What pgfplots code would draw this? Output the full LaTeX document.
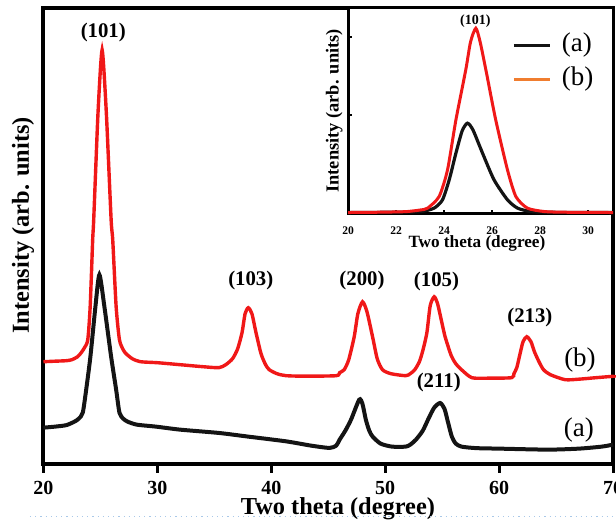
\documentclass[border=0pt]{standalone}
\usepackage{fontspec}
\setmainfont{Liberation Serif}
\usepackage{pgfplots}
\pgfplotsset{compat=1.18}
\definecolor{xrdred}{HTML}{F01818}
\definecolor{xrdblack}{HTML}{141414}
\definecolor{legorange}{HTML}{F07D2F}
\definecolor{dotblue}{HTML}{A9C8E8}

\begin{document}
\begin{tikzpicture}
\begin{axis}[
  name=main, at={(0,0)}, anchor=south west,
  scale only axis, width=285pt, height=228pt,
  xmin=20, xmax=70, ymin=0, ymax=456,
  xtick={20,30,40,50,60,70}, ytick=\empty,
  xtick pos=lower, tick align=outside,
  major tick length=4.5pt,
  axis line style={line width=2pt},
  every tick/.style={line width=1.5pt, black},
  /pgf/number format/assume math mode=true,
  tick label style={font=\bfseries\fontsize{10}{12}\selectfont},
  xticklabel style={yshift=-1pt},
  xlabel={\bfseries Two theta (degree)},
  ylabel={\bfseries Intensity (arb. units)},
  xlabel style={font=\fontsize{12.2}{14}\selectfont, at={(axis description cs:0.517,-0.099)}, anchor=center},
  ylabel style={font=\fontsize{12.2}{14}\selectfont, at={(axis description cs:-0.036,0.523)}, anchor=center, rotate=0},
  clip=false,
]
% (a)
\addplot[xrdblack, line width=2pt, smooth, tension=0.4] coordinates {
(20,36) (21,37) (22,38.5) (22.72,42) (23.1,45) (23.45,51) (23.75,74) (24.12,107)
(24.56,157) (24.91,189) (25.35,157) (25.94,107) (26.38,74) (26.67,51) (27.0,45)
(27.39,42) (28.2,39) (29.9,37) (32,34) (35.4,30.7) (38,27) (41.3,22.3) (43.5,18)
(45.1,15.7) (45.7,18) (46.0,24) (46.5,33) (47.0,44) (47.72,64) (48.0,60) (48.3,44)
(48.6,33) (48.9,27) (49.6,20) (50.6,17) (51.8,17) (52.2,19) (52.7,24) (53.3,33)
(53.8,45) (54.3,56) (54.82,60.7) (55.2,55) (55.5,42) (55.85,27) (56.2,20) (56.7,17)
(58,15.5) (60,15) (64.3,14) (67,15) (69,17) (70,19)
};
% (b)
\addplot[xrdred, line width=1.7pt, smooth, tension=0.4] coordinates {
(20,102) (21,102.5) (22,103) (22.5,104) (23.0,107) (23.31,111) (23.6,116) (23.89,124)
(24.10,157) (24.32,224) (24.41,244) (24.76,344) (25.0,395) (25.15,414) (25.3,395)
(25.55,344) (25.94,244) (26.08,224) (26.38,157) (26.67,124) (27.0,114) (27.25,110)
(27.8,105) (28.5,102) (30,101) (32,99) (34,97) (35.4,96) (36.0,99) (36.6,105)
(37.05,115) (37.43,131) (37.7,150) (37.98,156) (38.3,150) (38.66,131) (39.1,110)
(39.5,99) (39.82,94) (40.5,90) (41.3,88) (43,87.5) (45.7,88) (46.0,91) (46.4,94)
(46.8,104) (47.28,127) (47.6,150) (48.01,162) (48.4,152) (48.89,127) (49.3,105)
(49.76,94) (50.5,90) (51.8,88) (52.2,90) (52.6,94) (53.0,102) (53.3,113) (53.66,131)
(53.95,158) (54.30,167) (54.6,160) (54.9,145) (55.26,127) (55.8,108) (56.2,100)
(56.7,94) (57.6,86) (59,85.5) (61.1,86) (61.3,90) (61.55,96) (61.8,108) (62.1,122)
(62.43,127) (62.8,122) (63.1,112) (63.5,102) (63.9,94) (64.5,89) (65.8,84) (67,84.5)
(68.5,86) (69.9,87.3) (70,87.5)
};
\begin{scope}[font=\bfseries\fontsize{10.4}{12}\selectfont]
\node at (axis cs:25.25,431) {(101)};
\node at (axis cs:38.2,183) {(103)};
\node at (axis cs:47.96,183) {(200)};
\node at (axis cs:54.5,182) {(105)};
\node at (axis cs:62.7,146) {(213)};
\node at (axis cs:54.7,81) {(211)};
\end{scope}
\node[font=\fontsize{13.5}{15}\selectfont] at (axis cs:67.1,104) {(b)};
\node[font=\fontsize{13.5}{15}\selectfont] at (axis cs:67.0,34) {(a)};
\end{axis}

\begin{axis}[
  name=inset, at={(main.north east)}, anchor=north east,
  scale only axis, width=132.5pt, height=103pt,
  xmin=20, xmax=31.04, ymin=0, ymax=206,
  axis background/.style={fill=white},
  xtick={20,22,...,30}, ytick={99,177}, yticklabels={},
  xtick pos=lower, ytick pos=left, tick align=inside,
  major tick length=2pt,
  axis line style={line width=1.5pt},
  every tick/.style={line width=0.8pt, black},
  /pgf/number format/assume math mode=true,
  tick label style={font=\bfseries\fontsize{5.8}{7}\selectfont},
  xticklabel style={yshift=-3pt},
  xlabel={\bfseries Two theta (degree)},
  ylabel={\bfseries Intensity (arb. units)},
  xlabel style={font=\fontsize{8.6}{10}\selectfont, at={(axis description cs:0.486,-0.146)}, anchor=center},
  ylabel style={font=\fontsize{9.2}{11}\selectfont, at={(axis description cs:-0.053,0.5)}, anchor=center, rotate=0},
  legend style={draw=none, fill=none, inner sep=0pt, at={(rel axis cs:0.618,0.735)}, anchor=west,
    font=\fontsize{13.5}{15}\selectfont, row sep=3pt,
    nodes={inner sep=0.5pt, text height=9.5pt, text depth=3.5pt},
    /tikz/every odd column/.style={column sep=4.5pt}},
  legend cell align=left,
  legend image code/.code={\draw[#1, line width=1.5pt] (0pt,0pt) -- (18.3pt,0pt);},
  clip=false,
]
\addplot[xrdblack, line width=1.6pt, smooth, tension=0.4, forget plot] coordinates {
(20,1.3) (22,1.6) (23.03,2.3) (23.58,5.7) (23.93,14) (24.21,34) (24.49,60.7) (24.75,83)
(24.97,90.7) (25.2,84) (25.6,60.7) (26.08,34) (26.64,14) (27.06,5.7) (27.61,2.3)
(28.5,1.5) (31.04,1.3)
};
\addplot[xrdred, line width=1.5pt, smooth, tension=0.4, forget plot] coordinates {
(20,1.3) (21,1.5) (22,1.9) (22.47,2.3) (23.0,3.8) (23.31,5.7) (23.79,17.3) (24.14,44)
(24.49,94) (24.9,144) (25.1,172) (25.32,185.7) (25.5,172) (25.74,144) (26.15,94)
(26.64,44) (26.99,17.3) (27.47,5.7) (28.17,2.3) (29,1.6) (31.04,1.3)
};
\addlegendimage{xrdblack}
\addlegendentry{(a)}
\addlegendimage{legorange}
\addlegendentry{(b)}
\node[font=\bfseries\fontsize{7}{8}\selectfont] at (axis cs:25.3,193) {(101)};
\end{axis}

\draw[dotblue, dotted, line width=0.6pt] ([shift={(-6.75pt,-26.5pt)}]main.south west) -- ([shift={(4pt,-26.5pt)}]main.south east);
\pgfresetboundingbox
\path[use as bounding box] ([shift={(-21.75pt,-29pt)}]main.south west) rectangle ([shift={(1.5pt,4pt)}]main.north east);
\end{tikzpicture}
\end{document}
